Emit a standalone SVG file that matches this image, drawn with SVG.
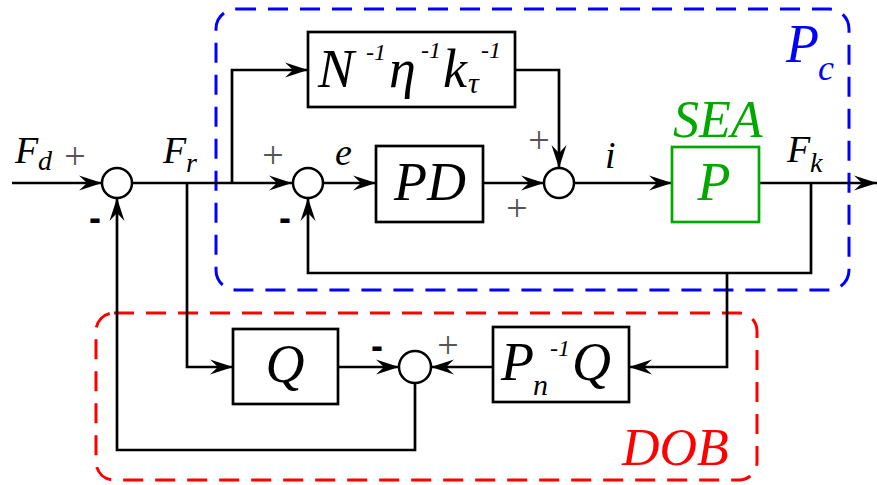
<svg xmlns="http://www.w3.org/2000/svg" width="877" height="485" viewBox="0 0 877 485">
<style>
.ln{fill:none;stroke:#000;stroke-width:2.7}
.blk{fill:#fff;stroke:#000;stroke-width:2.7}
.sum{fill:#fff;stroke:#000;stroke-width:2.5}
.t{font-family:"Liberation Serif","Times New Roman",serif;font-style:italic;fill:#000}
.pl{font-family:"Liberation Serif",serif;fill:#555;font-size:38px;text-anchor:middle}
.mi{font-family:"Liberation Sans",sans-serif;font-weight:bold;fill:#000;font-size:36px;text-anchor:middle}
.box{fill:none;stroke-width:3;stroke-dasharray:20 12}
</style>
<defs>
<marker id="ar" markerUnits="userSpaceOnUse" markerWidth="26" markerHeight="18" viewBox="-24 -9 26 18" refX="0" refY="0" orient="auto">
<path d="M0,0 L-23,-7.5 L-15,0 L-23,7.5 Z" fill="#000"/>
</marker>
</defs>
<rect id="Pc-region" x="216" y="9" width="633" height="281" rx="20" class="box" stroke="#0000ff"/>
<rect id="DOB-region" x="96" y="313" width="661" height="167" rx="18" class="box" stroke="#ff0000"/>
<g id="connectors">
<path class="ln" d="M12,183 H102" marker-end="url(#ar)"/>
<path class="ln" d="M132,183 H292" marker-end="url(#ar)"/>
<path class="ln" d="M187,183 V367 H233" marker-end="url(#ar)"/>
<path class="ln" d="M232,183 V70 H308" marker-end="url(#ar)"/>
<path class="ln" d="M323,183 H376" marker-end="url(#ar)"/>
<path class="ln" d="M483,183 H544" marker-end="url(#ar)"/>
<path class="ln" d="M515,70 H559 V168" marker-end="url(#ar)"/>
<path class="ln" d="M574,183 H672" marker-end="url(#ar)"/>
<path class="ln" d="M759,183 H877" marker-end="url(#ar)"/>
<path class="ln" d="M811,183 V273 H308 V198" marker-end="url(#ar)"/>
<path class="ln" d="M727,273 V367 H629" marker-end="url(#ar)"/>
<path class="ln" d="M493,367 H431" marker-end="url(#ar)"/>
<path class="ln" d="M338,367 H399" marker-end="url(#ar)"/>
<path class="ln" d="M415,383 V450 H117 V198" marker-end="url(#ar)"/>
</g>
<g id="sum1"><circle class="sum" cx="117" cy="183" r="15"/></g>
<g id="sum2"><circle class="sum" cx="308" cy="183" r="15"/></g>
<g id="sum3"><circle class="sum" cx="559" cy="183" r="15"/></g>
<g id="sum4"><circle class="sum" cx="415" cy="367" r="16"/></g>
<g id="ff-block">
<rect class="blk" x="308" y="32" width="207" height="75"/>
<text class="t" font-size="54" x="318" y="87">N</text>
<text class="t" font-size="24" x="366" y="60">-1</text>
<text class="t" font-size="54" x="389" y="87">η</text>
<text class="t" font-size="24" x="421" y="58">-1</text>
<text class="t" font-size="54" x="443" y="87">k</text>
<text class="t" font-size="30" x="468" y="93">τ</text>
<text class="t" font-size="24" x="481" y="58">-1</text>
</g>
<g id="PD">
<rect class="blk" x="376" y="146" width="107" height="76"/>
<text class="t" font-size="54" x="430" y="200" text-anchor="middle">PD</text>
</g>
<g id="P">
<rect x="672" y="147" width="87" height="75" fill="#fff" stroke="#00a800" stroke-width="2.7"/>
<text class="t" font-size="54" x="714" y="200" text-anchor="middle" style="fill:#00a800">P</text>
<text class="t" font-size="52" x="673" y="137" style="fill:#00a800">SEA</text>
</g>
<g id="Q">
<rect class="blk" x="233" y="329" width="105" height="75"/>
<text class="t" font-size="54" x="285" y="382" text-anchor="middle">Q</text>
</g>
<g id="PnQ">
<rect class="blk" x="493" y="327" width="136" height="75"/>
<text class="t" font-size="54" x="501" y="380">P</text>
<text class="t" font-size="30" x="533" y="395">n</text>
<text class="t" font-size="24" x="550" y="356">-1</text>
<text class="t" font-size="54" x="572" y="380">Q</text>
</g>
<g id="labels">
<text class="t" font-size="38" x="15" y="163">F</text>
<text class="t" font-size="28" x="38" y="170">d</text>
<text class="t" font-size="38" x="163" y="163">F</text>
<text class="t" font-size="28" x="186" y="172">r</text>
<text class="t" font-size="38" x="787" y="162">F</text>
<text class="t" font-size="28" x="810" y="172">k</text>
<text class="t" font-size="38" x="335" y="165">e</text>
<text class="t" font-size="38" x="605" y="168">i</text>
<text class="t" font-size="54" x="786" y="62" style="fill:#0000ff">P</text>
<text class="t" font-size="36" x="818" y="80" style="fill:#0000ff">c</text>
<text class="t" font-size="52" x="622" y="465" style="fill:#ff0000">DOB</text>
<text class="pl" x="75" y="169">+</text>
<text class="pl" x="273" y="168">+</text>
<text class="pl" x="539" y="153">+</text>
<text class="pl" x="517" y="221">+</text>
<text class="pl" x="448" y="358">+</text>
<text class="mi" x="95" y="230">-</text>
<text class="mi" x="285" y="230">-</text>
<text class="mi" x="377" y="358">-</text>
</g>
</svg>
